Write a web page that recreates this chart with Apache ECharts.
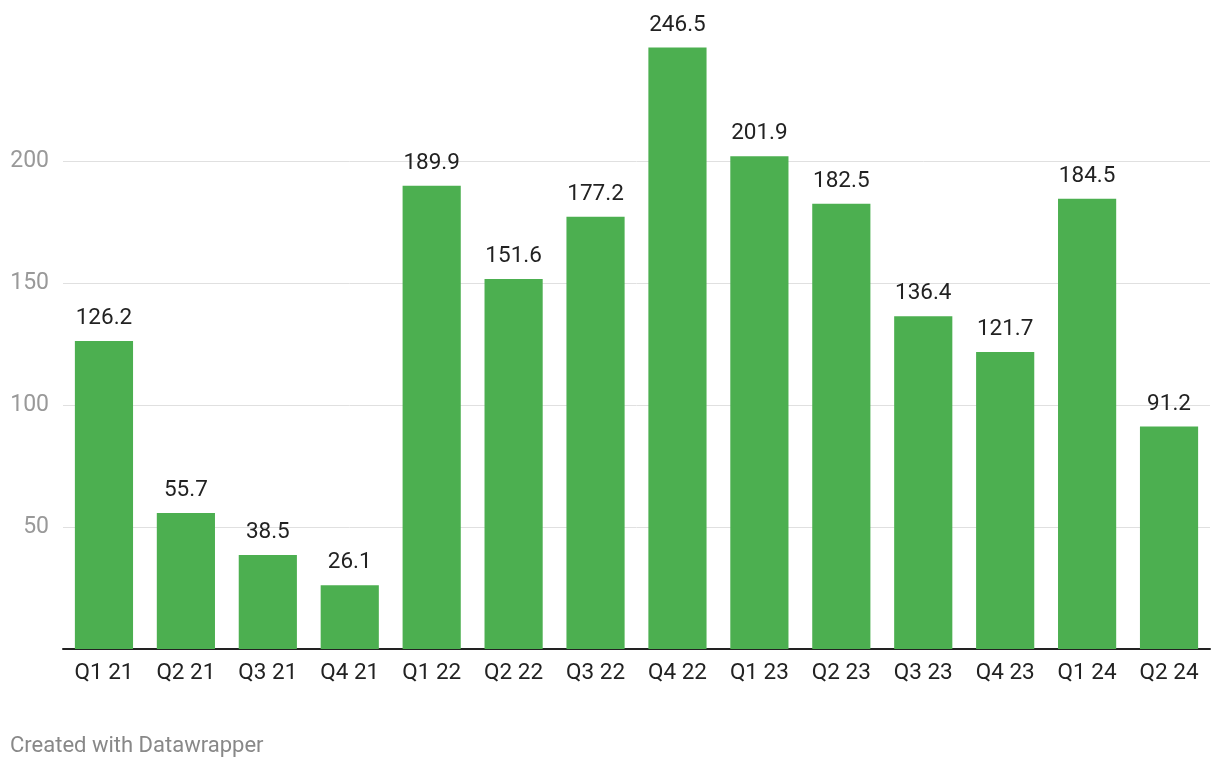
<!DOCTYPE html>
<html>
<head>
<meta charset="utf-8">
<script src="https://cdn.jsdelivr.net/npm/echarts@6/dist/echarts.min.js"></script>
<style>
html,body{margin:0;padding:0;background:#fff;}
#chart{width:1220px;height:768px;}
</style>
</head>
<body>
<div id="chart"></div>
<script>
const categories = ['Q1 21','Q2 21','Q3 21','Q4 21','Q1 22','Q2 22','Q3 22','Q4 22','Q1 23','Q2 23','Q3 23','Q4 23','Q1 24','Q2 24'];
const values = [126.2, 55.7, 38.5, 26.1, 189.9, 151.6, 177.2, 246.5, 201.9, 182.5, 136.4, 121.7, 184.5, 91.2];
const yTicks = [50, 100, 150, 200];

const chart = echarts.init(document.getElementById('chart'));
chart.setOption({
  animation: false,
  textStyle: { fontFamily: 'Roboto' },
  grid: { left: 63, right: 10, top: 39, bottom: 119, containLabel: false },
  graphic: [{
    type: 'text', left: 10, top: 735,
    style: { text: 'Created with Datawrapper', fill: '#888', fontSize: 22, fontFamily: 'Roboto' }
  }],
  xAxis: {
    type: 'category',
    data: categories,
    axisLine: { lineStyle: { color: '#222', width: 2 } },
    axisTick: { show: false },
    axisLabel: { color: '#222', fontSize: 22.5, margin: 13 }
  },
  yAxis: {
    type: 'value',
    min: 0, max: 250, interval: 50,
    axisLine: { show: false },
    axisTick: { show: false },
    axisLabel: {
      color: '#999', fontSize: 23, margin: 14,
      formatter: v => yTicks.includes(v) ? String(v) : ''
    },
    splitLine: { lineStyle: { color: ['rgba(0,0,0,0)','#e0e0e0','#e0e0e0','#e0e0e0','#e0e0e0','rgba(0,0,0,0)'], width: 1 } }
  },
  series: [{
    type: 'bar',
    data: values,
    barCategoryGap: '29%',
    itemStyle: { color: '#4caf50' },
    label: { show: true, position: 'top', distance: 11, color: '#222', fontSize: 22.5, formatter: p => p.value.toFixed(1) }
  }]
});
</script>
</body>
</html>
